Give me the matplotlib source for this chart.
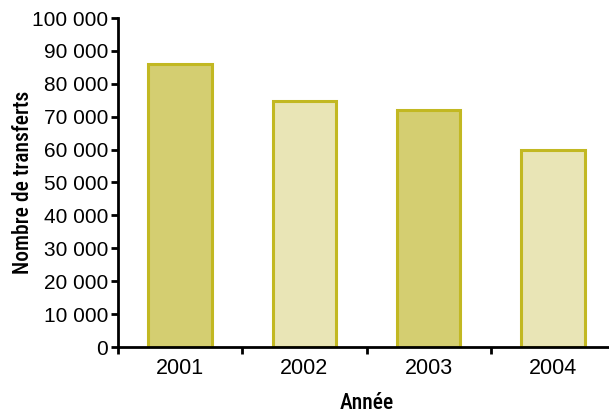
import matplotlib
matplotlib.use("Agg")
import matplotlib.pyplot as plt
from matplotlib.ticker import FuncFormatter

years = ["2001", "2002", "2003", "2004"]
transfers = [86000, 74800, 71900, 60000]
fill_colors = ["#D4CE71", "#E9E5B6", "#D4CE71", "#E9E5B6"]
edge_color = "#C2B822"

W, H = 609, 415
fig = plt.figure(figsize=(W / 100, H / 100), dpi=100)
left, right, bottom, top = 118, 615, 347, 18
ax = fig.add_axes([left / W, (H - bottom) / H, (right - left) / W, (bottom - top) / H])

x = list(range(len(years)))
ax.bar(x, transfers, width=0.51, color=fill_colors, edgecolor=edge_color, linewidth=2.2)

ax.set_xlim(-0.5, len(years) - 0.5)
ax.set_ylim(0, 100000)
ax.set_yticks(range(0, 100001, 10000))
ax.yaxis.set_major_formatter(FuncFormatter(lambda v, p: f"{int(v):,}".replace(",", " ")))

ax.set_xticks([i + 0.5 for i in range(-1, len(years))])
ax.set_xticklabels([])
ax.set_xticks(x, minor=True)
ax.set_xticklabels(years, minor=True)
ax.tick_params(axis="x", which="minor", length=0, pad=8, labelsize=15.5)
ax.tick_params(axis="x", which="major", direction="out", length=5, width=2)
ax.tick_params(axis="y", direction="out", length=5, width=2, pad=2, labelsize=15)

for s in ["top", "right"]:
    ax.spines[s].set_visible(False)
for s in ["left", "bottom"]:
    ax.spines[s].set_linewidth(2)

for lbl in ax.get_xticklabels(minor=True) + ax.get_yticklabels():
    lbl.set_family(["Liberation Sans", "DejaVu Sans"])

narrow = ["Liberation Sans Narrow", "Roboto Condensed", "DejaVu Sans"]
ax.set_xlabel("Année", family=narrow, fontsize=15.5, fontweight="medium", labelpad=9)
ax.set_ylabel("Nombre de transferts", family=narrow, fontsize=15.5, fontweight="medium", labelpad=-1)

fig.savefig("out.png", dpi=100)
